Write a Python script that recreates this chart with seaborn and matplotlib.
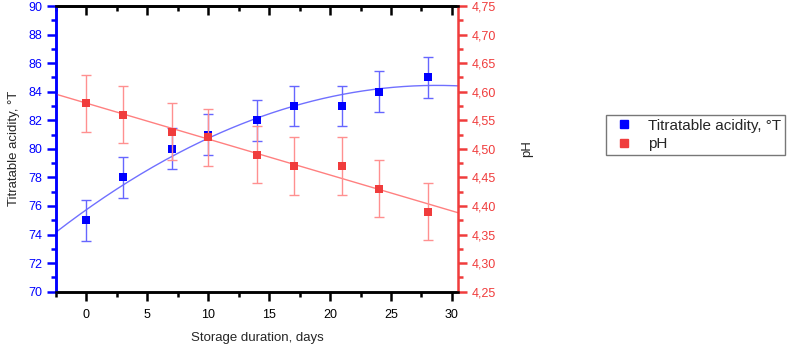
import numpy as np
import matplotlib
matplotlib.use("Agg")
import matplotlib.pyplot as plt
import seaborn as sns
from matplotlib.ticker import MultipleLocator, FuncFormatter

# Storage days
days = [0, 3, 7, 10, 14, 17, 21, 24, 28]
# Titratable acidity, °T
acidity = [75, 78, 80, 81, 82, 83, 83, 84, 85]
acidity_err = [1.43] * 9
# pH
ph = [4.58, 4.56, 4.53, 4.52, 4.49, 4.47, 4.47, 4.43, 4.39]
ph_err = [0.05] * 9

blue = "#0000ff"
red = "#f03c3c"

sns.set_style("ticks")
plt.rcParams["font.family"] = ["Liberation Sans", "DejaVu Sans"]

fig = plt.figure(figsize=(7.9, 3.47), dpi=100)
ax = fig.add_axes([0.0709, 0.1594, 0.5088, 0.8233])
ax2 = ax.twinx()

# fitted curves (quadratic for acidity, linear for pH)
xs = np.linspace(-2.5, 30.5, 200)
c1 = np.polyfit(days, acidity, 2)
c2 = np.polyfit(days, ph, 1)
sns.lineplot(x=xs, y=np.polyval(c1, xs), ax=ax, color="#7070ff", lw=1, zorder=2)
sns.lineplot(x=xs, y=np.polyval(c2, xs), ax=ax2, color="#ff8080", lw=1, zorder=2)

ax.errorbar(days, acidity, yerr=acidity_err, fmt="none", ecolor="#6666ff",
            elinewidth=1, capsize=3.6, capthick=1, zorder=3)
ax2.errorbar(days, ph, yerr=ph_err, fmt="none", ecolor="#ff9090",
             elinewidth=1, capsize=3.6, capthick=1, zorder=3)
sns.scatterplot(x=days, y=acidity, ax=ax, marker="s", s=32, color=blue,
                edgecolor=blue, linewidth=0, zorder=4)
sns.scatterplot(x=days, y=ph, ax=ax2, marker="s", s=32, color=red,
                edgecolor=red, linewidth=0, zorder=4)

ax.set_xlim(-2.5, 30.5)
ax.set_ylim(70, 90)
ax2.set_ylim(4.25, 4.75)

ax.xaxis.set_major_locator(MultipleLocator(5))
ax.xaxis.set_minor_locator(MultipleLocator(2.5))
ax.yaxis.set_major_locator(MultipleLocator(2))
ax.yaxis.set_minor_locator(MultipleLocator(1))
ax2.yaxis.set_major_locator(MultipleLocator(0.05))
ax2.yaxis.set_minor_locator(MultipleLocator(0.025))
ax2.yaxis.set_major_formatter(FuncFormatter(lambda v, p: f"{v:.2f}".replace(".", ",")))

for a in (ax, ax2):
    for s in a.spines.values():
        s.set_linewidth(1.8)
        s.set_color("black")
ax.spines["left"].set_color(blue)
ax2.spines["left"].set_color(blue)
ax2.spines["right"].set_color(red)
ax.spines["right"].set_visible(False)

ax.tick_params(axis="x", which="both", bottom=True, top=False, labelsize=9,
               colors="black", width=1.8, direction="out")
ax.tick_params(axis="x", which="major", length=6.5, pad=6)
ax.tick_params(axis="x", which="minor", length=3.5)
ax.tick_params(axis="y", which="both", colors=blue, labelsize=9, width=1.8)
ax.tick_params(axis="y", which="major", length=6.5)
ax.tick_params(axis="y", which="minor", length=3.5)
ax2.tick_params(axis="y", which="both", colors=red, labelsize=9, width=1.8)
ax2.tick_params(axis="y", which="major", length=6.5)
ax2.tick_params(axis="y", which="minor", length=3.5)

# inward ticks on top spine
sec = ax.secondary_xaxis("top")
sec.xaxis.set_major_locator(MultipleLocator(5))
sec.xaxis.set_minor_locator(MultipleLocator(2.5))
sec.tick_params(which="both", direction="in", labeltop=False, width=1.8, colors="black")
sec.tick_params(which="major", length=6.5)
sec.tick_params(which="minor", length=3.5)
sec.spines["top"].set_linewidth(1.8)

ax.set_xlabel("Storage duration, days", fontsize=9.5, labelpad=8)
ax.set_ylabel("Titratable acidity, °T", fontsize=9.5, labelpad=6)
ax2.set_ylabel("pH", fontsize=9.5, rotation=90, labelpad=18)

handles = [
    plt.Line2D([], [], marker="s", ls="none", color=blue, markersize=5.5),
    plt.Line2D([], [], marker="s", ls="none", color=red, markersize=5.5),
]
fig.legend(handles, ["Titratable acidity, °T", "pH"], loc="upper left",
           bbox_to_anchor=(0.767, 0.669), borderaxespad=0, fontsize=11,
           frameon=True, fancybox=False, edgecolor="#555555",
           handletextpad=0.6, borderpad=0.25, labelspacing=0.3,
           handlelength=1.9)

fig.savefig("out.png", dpi=100)
